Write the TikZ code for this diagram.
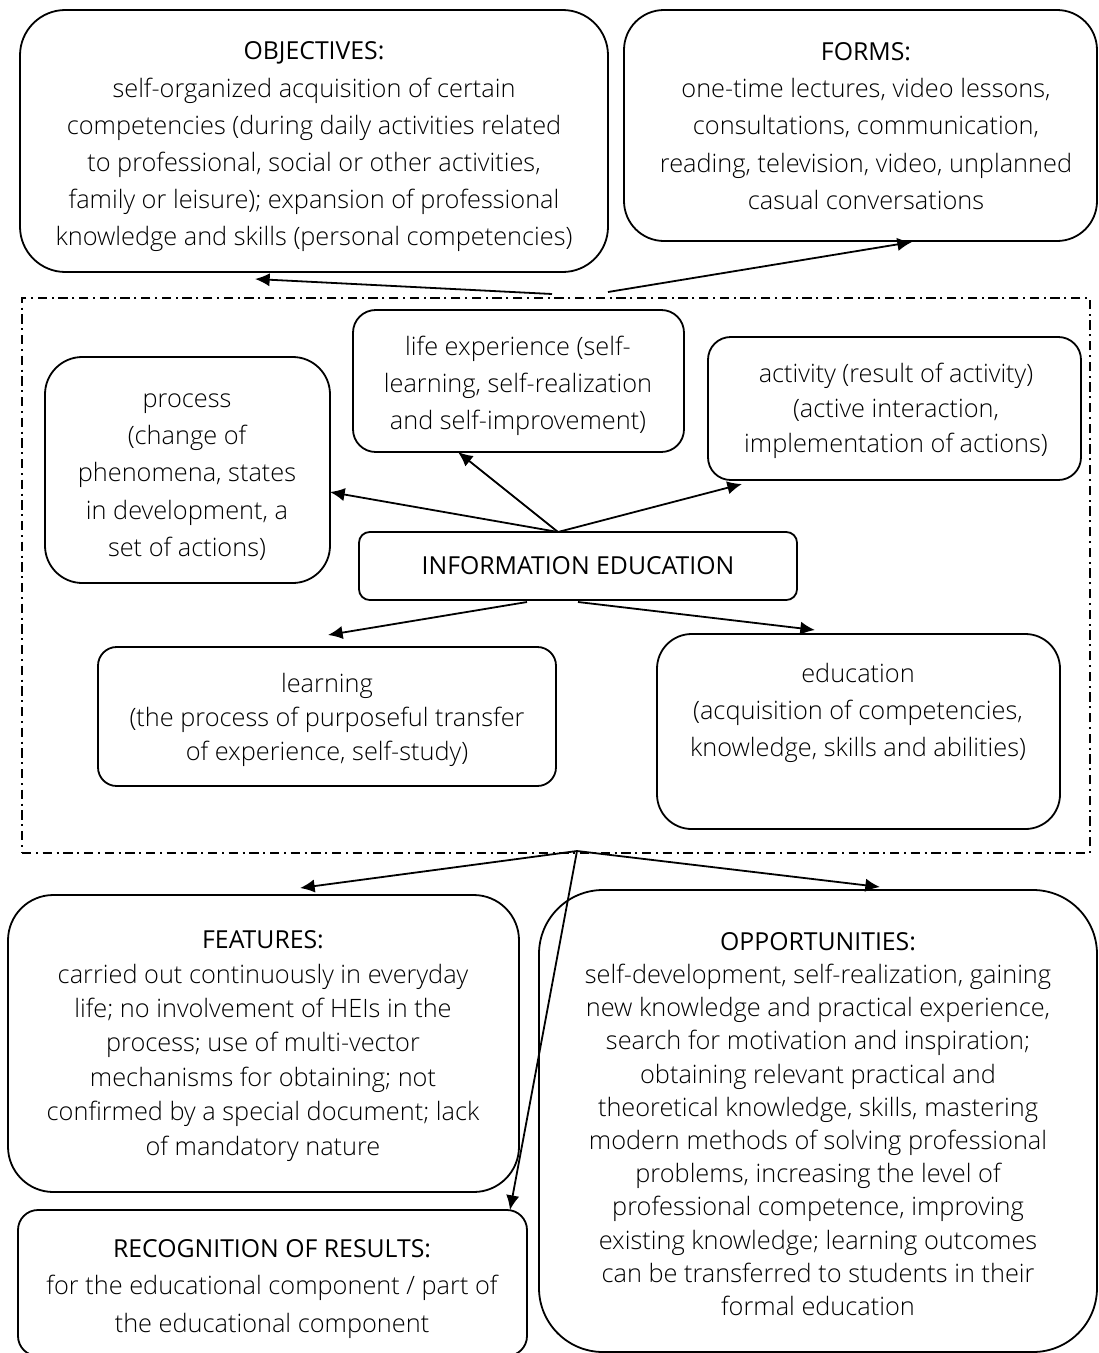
\documentclass[tikz,border=0pt]{standalone}
\usepackage{fontspec}
\IfFontExistsTF{Open Sans Light}{\setmainfont{Open Sans Light}}{\setmainfont{Open Sans}}
\newfontfamily\ttlfont{Open Sans}
\usetikzlibrary{fit,arrows.meta}
\tikzset{
  box/.style={draw, line width=1.35pt, inner sep=0pt},
  txt/.style={align=center, inner sep=0pt, font=\fontsize{19pt}{27.9pt}\selectfont},
  arr/.style={line width=1.35pt, -{Latex[length=11pt,width=10pt]}},
  frame/.style={draw, line width=1.1pt, dash pattern=on 7pt off 3.5pt on 1.5pt off 3.5pt, inner sep=0pt}
}
\newcommand{\ttl}[1]{{\ttlfont\fontsize{18.6pt}{27.9pt}\selectfont #1}}
\begin{document}
\begin{tikzpicture}[x=0.75pt,y=-0.75pt]
\useasboundingbox (0,0) rectangle (1099,1353);
% boxes
\node[box, rounded corners=34pt, fit={(20,10)(608,272)}] (obj) {};
\node[box, rounded corners=30pt, fit={(624,10)(1097,241)}] (forms) {};
\node[frame, fit={(22,298)(1090,853)}] (frm) {};
\node[box, rounded corners=17pt, fit={(353,310)(684,452)}] (life) {};
\node[box, rounded corners=28pt, fit={(45,357)(330,583)}] (proc) {};
\node[box, rounded corners=17pt, fit={(708,337)(1081,480)}] (act) {};
\node[box, rounded corners=8pt, fit={(359,532)(797,600)}] (ie) {};
\node[box, rounded corners=14pt, fit={(98,647)(556,786)}] (learn) {};
\node[box, rounded corners=26pt, fit={(657,634)(1060,829)}] (edu) {};
\node[box, rounded corners=34pt, fit={(8,895)(519,1192)}] (feat) {};
\node[box, rounded corners=48pt, fit={(539,890)(1097,1352)}] (opp) {};
\node[box, rounded corners=15pt, fit={(18,1210)(527,1356)}] (rec) {};
% texts
\node[txt] (obj-t) at (314,147) {\ttl{OBJECTIVES:}\\ self-organized acquisition of certain\\ competencies (during daily activities related\\ to professional, social or other activities,\\ family or leisure); expansion of professional\\ knowledge and skills (personal competencies)};
\node[txt] (forms-t) at (866,126) {\ttl{FORMS:}\\ one-time lectures, video lessons,\\ consultations, communication,\\ reading, television, video, unplanned\\ casual conversations};
\node[txt] (life-t) at (518,386) {life experience (self-\\ learning, self-realization\\ and self-improvement)};
\node[txt] (proc-t) at (187,477) {process\\ (change of\\ phenomena, states\\ in development, a\\ set of actions)};
\node[txt, font=\fontsize{19pt}{26.5pt}\selectfont] (act-t) at (896,411) {activity (result of activity)\\ (active interaction,\\ implementation of actions)};
\node[txt] (ie-t) at (578,566) {\ttl{INFORMATION EDUCATION}};
\node[txt, font=\fontsize{19pt}{25.8pt}\selectfont] (learn-t) at (327,720) {learning\\ (the process of purposeful transfer\\ of experience, self-study)};
\node[txt] (edu-t) at (858,713) {education\\ (acquisition of competencies,\\ knowledge, skills and abilities)};
\node[txt, font=\fontsize{19pt}{25.8pt}\selectfont] (feat-t) at (263,1046) {\ttl{FEATURES:}\\ carried out continuously in everyday\\ life; no involvement of HEIs in the\\ process; use of multi-vector\\ mechanisms for obtaining; not\\ confirmed by a special document; lack\\ of mandatory nature};
\node[txt, font=\fontsize{19pt}{24.9pt}\selectfont] (opp-t) at (818,1124) {\ttl{OPPORTUNITIES:}\\ self-development, self-realization, gaining\\ new knowledge and practical experience,\\ search for motivation and inspiration;\\ obtaining relevant practical and\\ theoretical knowledge, skills, mastering\\ modern methods of solving professional\\ problems, increasing the level of\\ professional competence, improving\\ existing knowledge; learning outcomes\\ can be transferred to students in their\\ formal education};
\node[txt] (rec-t) at (272,1289) {\ttl{RECOGNITION OF RESULTS:}\\ for the educational component / part of\\ the educational component};
% connector points
\coordinate (s1) at (552,294);
\coordinate (s2) at (608,292);
\coordinate (t1) at (255,279);
\coordinate (t2) at (912,242);
\coordinate (ietop) at (558,532);
\coordinate (tp) at (330,492);
\coordinate (tl) at (458,452);
\coordinate (ta) at (742,484);
\coordinate (ieb1) at (527,602);
\coordinate (ieb2) at (578,602);
\coordinate (tle) at (328,635);
\coordinate (ted) at (815,630);
\coordinate (fb) at (577,851);
\coordinate (tf) at (300,888);
\coordinate (to) at (880,887);
\coordinate (tr) at (510,1210);
% connectors
\draw[arr] (s1) -- (t1);
\draw[arr] (s2) -- (t2);
\draw[arr] (ietop) -- (tp);
\draw[arr] (ietop) -- (tl);
\draw[arr] (ietop) -- (ta);
\draw[arr] (ieb1) -- (tle);
\draw[arr] (ieb2) -- (ted);
\draw[arr] (fb) -- (tf);
\draw[arr] (fb) -- (to);
\draw[arr] (fb) -- (tr);
\end{tikzpicture}
\end{document}
